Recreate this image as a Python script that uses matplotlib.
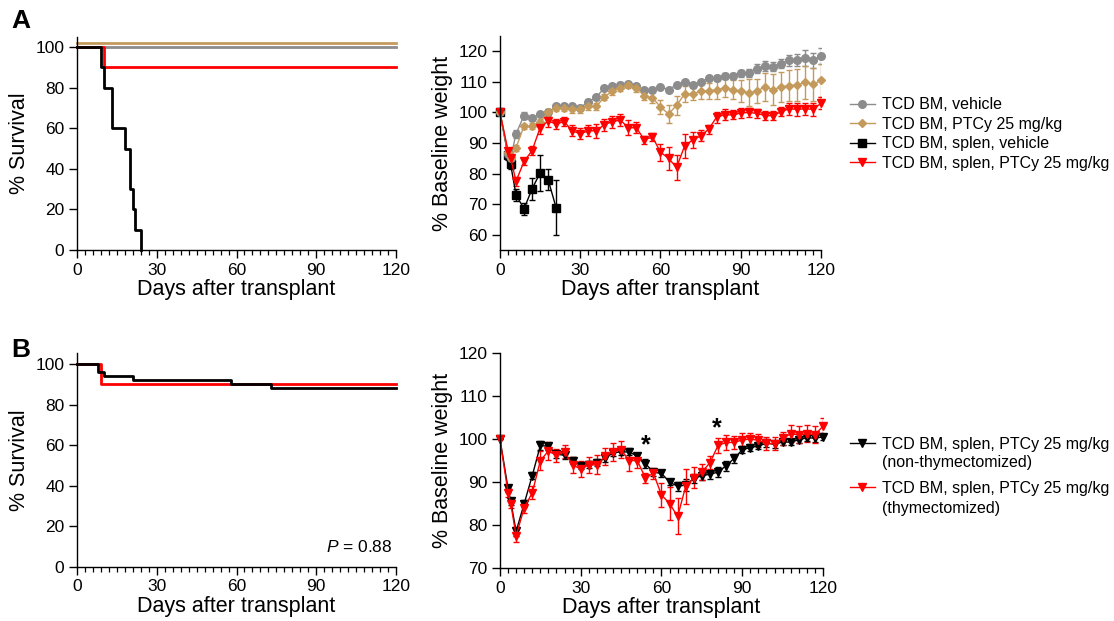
import matplotlib
matplotlib.use("Agg")
import matplotlib.pyplot as plt
from matplotlib.ticker import MultipleLocator

plt.rcParams['font.family'] = ['Liberation Sans', 'DejaVu Sans']
plt.rcParams['mathtext.fontset'] = 'custom'
plt.rcParams['mathtext.it'] = 'Liberation Sans:italic'
plt.rcParams['mathtext.rm'] = 'Liberation Sans'

# ---- survival data ----
surv_a_black_days = [0, 9, 10, 13, 18, 20, 21, 22, 24]
surv_a_black = [100, 90, 80, 60, 50, 30, 20, 10, 0]
surv_a_red_days = [0, 10, 120]
surv_a_red = [100, 90, 90]
surv_a_gray_days = [0, 120]
surv_a_gray = [100, 100]
surv_a_tan_days = [0, 120]
surv_a_tan = [100, 100]

surv_b_black_days = [0, 8, 10, 21, 58, 73, 120]
surv_b_black = [100, 96, 94, 92, 90, 88, 88]
surv_b_red_days = [0, 9, 120]
surv_b_red = [100, 90, 90]

# ---- weight data ----
days = [0, 3, 4, 6, 9, 12, 15, 18, 21, 24, 27, 30, 33, 36, 39, 42, 45, 48, 51, 54, 57,
        60, 63, 66, 69, 72, 75, 78, 81, 84, 87, 90, 93, 96, 99, 102, 105, 108, 111, 114, 117, 120]

gray_w = [100, 86.5, 85, 93, 99, 98.3, 99.5, 100, 102, 102, 102, 101.5, 103.5, 105, 108, 108.5,
          109, 109.3, 108.5, 107.2, 107.5, 108.3, 107.5, 109, 110, 109, 110, 111.2, 111.3, 111.8,
          111.8, 112.8, 113, 114.3, 115.2, 115, 116, 117, 117.2, 117.8, 117, 118.5]
gray_e = [0, 1, 1, 1.2, 1, 0.7, 0.7, 0.8, 0.8, 0.8, 0.8, 0.8, 0.8, 0.8, 0.8, 0.8, 0.8, 0.8, 0.8,
          0.8, 0.8, 0.6, 0.6, 0.6, 0.6, 0.6, 0.6, 0.8, 1, 1, 1, 1.2, 1.3, 1.5, 1.5, 1.5, 1.5, 1.8,
          2, 2.5, 2.5, 2.5]

tan_w = [100, 87, 85, 88.5, 95.5, 95.5, 97, 100, 101.5, 101.5, 101, 101, 102, 102, 105, 107, 108,
         109, 108, 105.5, 104.8, 101.8, 99.5, 102.3, 106, 106, 107, 107, 107.5, 108, 107.5, 107,
         106.5, 107, 108.3, 107.5, 108.3, 108.8, 109, 109.8, 109.2, 110.5]
tan_e = [0, 1, 1, 1, 0.8, 1, 1, 1, 1, 1, 1.2, 1.2, 1.2, 1.2, 1, 1.2, 1, 1, 1.2, 1.5, 1.8, 2.2, 3,
         3.2, 2.5, 2, 2.5, 2.5, 3, 3, 3, 3.5, 4.5, 4, 4.5, 5, 5, 5.2, 5.3, 5.3, 5.5, 5.5]

red_w = [100, 87.5, 85, 77.5, 84, 87.5, 95, 97.2, 96.2, 97, 94, 93, 94, 94, 96, 97, 97.5, 95, 95,
         91, 92, 87, 85, 82, 89, 91, 92.3, 94.5, 98.5, 99.2, 99.2, 99.8, 100, 99.7, 99, 98.9,
         100.2, 101.2, 101, 101.2, 101, 103]
red_e = [0, 1, 1, 1.5, 1.2, 1.5, 2.2, 2, 1.5, 1.5, 1.8, 1.8, 1.8, 2.2, 2, 2, 2, 2.5, 1.8, 1.2,
         1.2, 2.8, 3.8, 4.2, 4, 2.5, 1.8, 1.5, 1.8, 1.8, 1.5, 1.5, 1.5, 1.5, 1.5, 1.5, 1.5, 2, 2,
         2, 2, 2]

black_a_days = [0, 3, 4, 6, 9, 12, 15, 18, 21]
black_a_w = [100, 86, 83, 73, 68.5, 75, 80.2, 78, 68.8]
black_a_e = [0, 1.5, 1.5, 2, 2, 3.5, 6, 3.5, 9]

black_b_w = [100, 88.5, 85.5, 78.5, 85, 91.5, 98.5, 98.3, 96.5, 96.2, 95, 93.8, 94, 94.5, 95.5,
             96.8, 97, 97, 96, 94.3, 92.3, 92, 90, 89, 89.3, 90.8, 91.5, 91.8, 92.3, 93.8, 95.5,
             97.5, 98, 98.4, 99, 98.8, 99.3, 99.3, 99.8, 100.3, 100.2, 100.5]
black_b_e = [0, 0.8, 0.8, 1, 0.8, 0.8, 1, 0.8, 0.8, 0.8, 0.8, 0.8, 0.8, 0.8, 0.8, 0.8, 0.8, 0.8,
             0.8, 1, 0.8, 0.8, 0.8, 1, 1.5, 1, 1, 1, 1.2, 1.2, 1, 0.8, 0.8, 0.8, 0.8, 0.8, 0.8,
             0.8, 0.8, 0.8, 0.8, 0.8]

# significance stars (day, height on weight axis)
star_days = [54, 80.5]
star_y = [98.6, 102.6]

legend_b_first = ['TCD BM, splen, PTCy 25 mg/kg', 'TCD BM, splen, PTCy 25 mg/kg']
legend_b_second = ['(non-thymectomized)', '(thymectomized)']

GRAY = '#8c8c8c'
TAN = '#c49a5c'
RED = '#ff0000'
BLACK = '#000000'

fig = plt.figure(figsize=(11.14, 6.21), dpi=100)
ax1 = fig.add_axes([0.0691, 0.5974, 0.2864, 0.343])
ax2 = fig.add_axes([0.4488, 0.5974, 0.2882, 0.3446])
ax3 = fig.add_axes([0.0691, 0.087, 0.2864, 0.3446])
ax4 = fig.add_axes([0.4488, 0.0853, 0.2900, 0.3462])


def style(ax):
    for s in ['top', 'right']:
        ax.spines[s].set_visible(False)
    for s in ['left', 'bottom']:
        ax.spines[s].set_linewidth(1.0)
    ax.tick_params(which='major', direction='out', length=6, width=1.0, labelsize=12.5, pad=3)
    ax.tick_params(which='minor', direction='out', length=3.5, width=0.9)
    ax.set_xlim(0, 120)
    ax.xaxis.set_major_locator(MultipleLocator(30))
    ax.xaxis.set_minor_locator(MultipleLocator(3))
    ax.set_xlabel('Days after transplant', fontsize=15.5, labelpad=1)


# A left - survival
ax1.step(surv_a_gray_days, surv_a_gray, where='post', color=GRAY, lw=2, clip_on=False)
ax1.step(surv_a_tan_days, [v + 2 for v in surv_a_tan], where='post', color=TAN, lw=2, clip_on=False)
ax1.step(surv_a_red_days, surv_a_red, where='post', color=RED, lw=2, clip_on=False)
ax1.step(surv_a_black_days, surv_a_black, where='post', color=BLACK, lw=2, clip_on=False)
style(ax1)
ax1.set_ylim(0, 105)
ax1.yaxis.set_major_locator(MultipleLocator(20))
ax1.set_ylabel('% Survival', fontsize=15.5, labelpad=4)

# A right - weight
ax2.errorbar(black_a_days, black_a_w, yerr=black_a_e, fmt='none', ecolor=BLACK, elinewidth=1,
             capsize=2.5, capthick=1)
ax2.errorbar(days, gray_w, yerr=gray_e, fmt='none', ecolor=GRAY, elinewidth=1, capsize=2.5, capthick=1)
ax2.errorbar(days, tan_w, yerr=tan_e, fmt='none', ecolor=TAN, elinewidth=1, capsize=2.5, capthick=1)
ax2.errorbar(days, red_w, yerr=red_e, fmt='none', ecolor=RED, elinewidth=1, capsize=2.5, capthick=1)
l_black, = ax2.plot(black_a_days, black_a_w, color=BLACK, marker='s', ms=6, lw=1,
                    label='TCD BM, splen, vehicle', clip_on=False)
l_gray, = ax2.plot(days, gray_w, color=GRAY, marker='o', ms=5.5, lw=1,
                   label='TCD BM, vehicle', clip_on=False)
l_tan, = ax2.plot(days, tan_w, color=TAN, marker='D', ms=4, lw=1,
                  label='TCD BM, PTCy 25 mg/kg', clip_on=False)
l_red, = ax2.plot(days, red_w, color=RED, marker='v', ms=6, lw=1,
                  label='TCD BM, splen, PTCy 25 mg/kg', clip_on=False)
style(ax2)
ax2.set_ylim(55, 125)
ax2.set_yticks([60, 70, 80, 90, 100, 110, 120])
ax2.set_ylabel('% Baseline weight', fontsize=15.5, labelpad=4)
fig.legend(handles=[l_gray, l_tan, l_black, l_red], loc='upper left',
           bbox_to_anchor=(0.763, 0.843), frameon=False, fontsize=11.5, handlelength=1.55,
           handletextpad=0.45, labelspacing=0.28, borderpad=0, borderaxespad=0, numpoints=1)

# B left - survival
ax3.step(surv_b_red_days, surv_b_red, where='post', color=RED, lw=2, clip_on=False)
ax3.step(surv_b_black_days, surv_b_black, where='post', color=BLACK, lw=2, clip_on=False)
style(ax3)
ax3.set_ylim(0, 105.5)
ax3.yaxis.set_major_locator(MultipleLocator(20))
ax3.set_ylabel('% Survival', fontsize=15.5, labelpad=4)
ax3.text(118.5, 10, '$P$ = 0.88', ha='right', va='center', fontsize=12.5)

# B right - weight
ax4.errorbar(days, black_b_w, yerr=black_b_e, fmt='none', ecolor=BLACK, elinewidth=1,
             capsize=2.5, capthick=1)
ax4.errorbar(days, red_w, yerr=red_e, fmt='none', ecolor=RED, elinewidth=1, capsize=2.5, capthick=1)
l_bb, = ax4.plot(days, black_b_w, color=BLACK, marker='v', ms=6, lw=1, clip_on=False,
                 label=legend_b_first[0])
l_rb, = ax4.plot(days, red_w, color=RED, marker='v', ms=6, lw=1, clip_on=False,
                 label=legend_b_first[1])
for sx, sy in zip(star_days, star_y):
    ax4.text(sx, sy, '*', ha='center', va='center', fontsize=18, fontweight='bold')
style(ax4)
ax4.set_ylim(70, 120)
ax4.yaxis.set_major_locator(MultipleLocator(10))
ax4.set_ylabel('% Baseline weight', fontsize=15.5, labelpad=4)
fig.legend(handles=[l_bb, l_rb], loc='upper left', bbox_to_anchor=(0.763, 0.297),
           frameon=False, fontsize=11.5, handlelength=1.55, handletextpad=0.45,
           labelspacing=1.83, borderpad=0, borderaxespad=0, numpoints=1)
# second line of each legend label sits under the first
fig.text(0.7915, 1 - 463 / 621, legend_b_second[0], fontsize=11.5, va='center', ha='left')
fig.text(0.7915, 1 - 508 / 621, legend_b_second[1], fontsize=11.5, va='center', ha='left')

fig.text(0.010, 0.985, 'A', fontsize=19, fontweight='bold', va='top')
fig.text(0.010, 0.455, 'B', fontsize=19, fontweight='bold', va='top')

fig.savefig('out.png', dpi=100)
